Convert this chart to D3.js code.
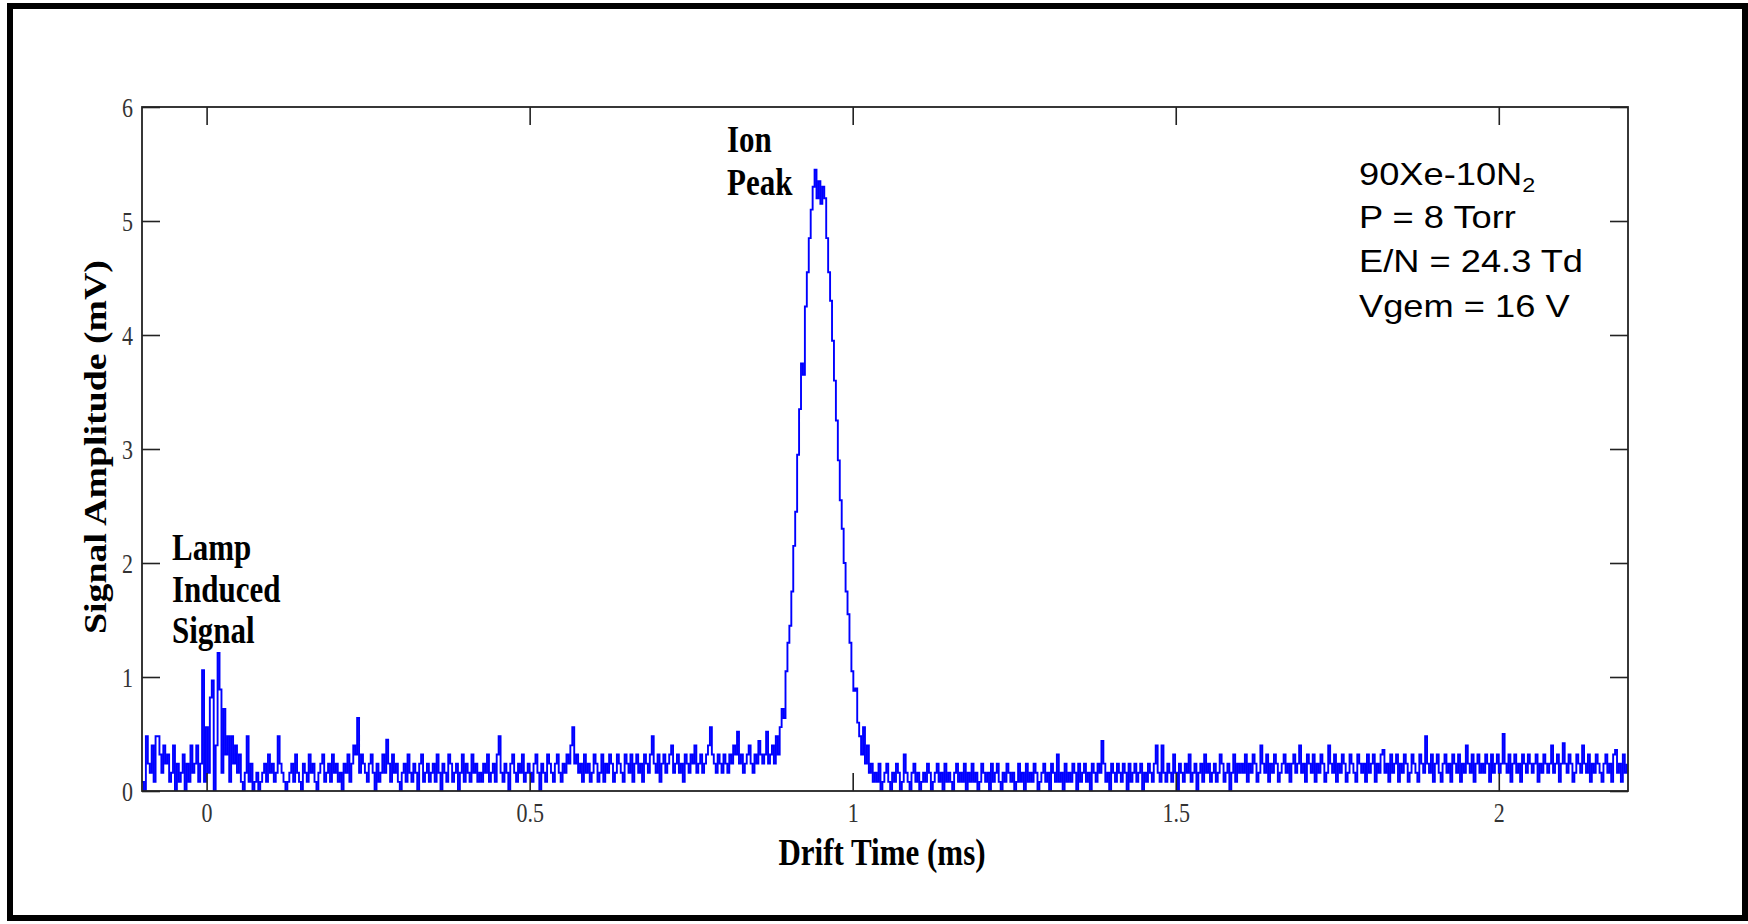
<!DOCTYPE html>
<html><head><meta charset="utf-8">
<script src="https://cdn.jsdelivr.net/npm/d3@7"></script>
<style>html,body{margin:0;padding:0;background:#fff;overflow:hidden}</style>
</head><body>
<svg id="chart" width="1748" height="924"></svg>
<script>
// ---- data (signal amplitude in mV, sampled every timeStep ms from timeStart) ----
const timeStart = -0.1;
const timeStep = 0.003;
const preTrigger = [0.08,0,0.48,0.24,0.16,0.4,0.08,0.48,0.48,0.32,0.16,0.4,0.24,0.32,0.08,0.16,0.4,0,0.24,0.08,0.16,0.32,0,0.24,0.08,0.4,0.16,0.24,0.4,0.08];
const lampSignal = [0.24,1.06,0.08,0.56,0.16,0.82,0.97,0,0.4,1.21,0.89,0.16,0.72,0.32,0.48,0.08,0.48,0.24,0.4,0.16];
const driftBaseline = [
0.32,0.08,0,0.16,0.48,0.08,0.24,0,0.08,0.16,0,0.08,0.16,0.24,0.08,0.32,0.16,0.24,0.08,0.16,0.48,0.24,0.16,0.08,0,
0.08,0.16,0.24,0.08,0.32,0.16,0.08,0,0.24,0.16,0.08,0.32,0.16,0.24,0.08,0,0.16,0.24,0.32,0.08,0.16,0.24,0.08,0.32,0.16,
0.24,0.08,0.16,0,0.24,0.16,0.32,0.08,0.24,0.4,0.32,0.64,0.16,0.32,0.24,0.16,0.08,0.24,0.32,0.16,0,0.24,0.08,0.16,0.32,
0.16,0.45,0.24,0.08,0.32,0.16,0.24,0.08,0,0.16,0.24,0.08,0.32,0.16,0.08,0.24,0.16,0,0.24,0.32,0.08,0.16,0.24,0.08,0.16,
0.24,0.08,0.32,0.16,0,0.24,0.16,0.08,0.32,0.24,0.08,0.16,0.24,0,0.16,0.32,0.08,0.24,0.16,0.08,0.32,0.16,0.24,0.08,0.16,
0.08,0.24,0.16,0.32,0.08,0.16,0.24,0.08,0.32,0.48,0.16,0.08,0.24,0.16,0,0.24,0.32,0.16,0.08,0.24,0.16,0.32,0.08,0.16,0.24,
0.16,0.08,0.24,0.32,0.16,0,0.24,0.16,0.08,0.32,0.24,0.16,0.08,0.24,0.32,0.16,0.08,0.24,0.16,0.32,0.24,0.4,0.56,0.24,0.32,
0.16,0.24,0.08,0.32,0.16,0.24,0.08,0.16,0.32,0.24,0.08,0.16,0.32,0.08,0.24,0.16,0.32,0.24,0.08,0.16,0.32,0.24,0.16,0.08,0.32,
0.24,0.16,0.32,0.08,0.24,0.32,0.16,0.24,0.08,0.32,0.24,0.16,0.32,0.48,0.24,0.16,0.32,0.08,0.24,0.32,0.16,0.24,0.32,0.4,0.16,
0.24,0.32,0.16,0.24,0.08,0.32,0.24,0.16,0.32,0.24,0.4,0.16,0.24,0.32,0.16,0.24,0.32,0.4,0.56,0.32,0.24,0.16,0.32,0.24,0.16,
0.32,0.24,0.16,0.32,0.24,0.4,0.32,0.52,0.24,0.32,0.16,0.24,0.32,0.4,0.24,0.16,0.32,0.24,0.44,0.32,0.24,0.32,0.52,0.24,0.32];
const ionPeak = [0.4,0.24,0.48,0.32,0.56,0.72,0.64,1.05,1.3,1.45,1.75,2.15,2.45,2.95,3.35,3.75,3.65,4.25,4.55,4.85,5.1,5.3,5.45,5.2,5.35,5.15,5.3,5.2,4.85,4.55,4.3,3.95,3.6,3.25,2.9,2.55,2.3,2.0,1.75,1.55,1.3,1.05,0.88,0.9,0.6,0.48,0.32,0.56,0.24,0.4,0.16,0.24,0.08];
const tailBaseline = [
0.16,0.08,0.24,0,0.08,0.16,0.24,0.08,0,0.16,0.08,0.24,0.16,0,0.08,0.32,0.16,0.08,0,0.16,0.24,0.08,0.16,0,0.08,
0.16,0.08,0.24,0.16,0,0.08,0.16,0.24,0.08,0.16,0,0.24,0.08,0.16,0.08,0,0.16,0.24,0.08,0.16,0.08,0.24,0,0.16,0.08,
0.24,0.08,0.16,0,0.08,0.24,0.16,0.08,0.16,0,0.24,0.08,0.16,0.24,0.08,0,0.16,0.08,0.24,0.16,0.08,0.16,0,0.08,0.24,
0.08,0.16,0,0.24,0.08,0.16,0.08,0.24,0.16,0,0.08,0.16,0.24,0.08,0.16,0,0.24,0.16,0.08,0.32,0.08,0.16,0,0.24,0.08,
0.16,0.08,0.24,0.16,0,0.24,0.08,0.16,0.24,0.08,0.16,0,0.24,0.16,0.08,0.24,0.16,0.44,0.24,0.08,0.16,0,0.24,0.16,0.08,
0.24,0.16,0.08,0.24,0.16,0,0.24,0.08,0.16,0.24,0.08,0.16,0.24,0,0.16,0.08,0.24,0.16,0.08,0.24,0.4,0.16,0.08,0.4,0.16,
0.08,0.24,0.16,0.08,0.32,0.16,0,0.24,0.16,0.08,0.24,0.16,0.32,0.08,0.16,0.24,0,0.16,0.24,0.08,0.32,0.16,0.24,0.08,0.16,
0.24,0.08,0.16,0.32,0.24,0.08,0.16,0.24,0,0.16,0.32,0.08,0.24,0.16];
const lateBaseline = [
0.24,0.16,0.32,0.08,0.24,0.16,0.32,0.24,0.08,0.16,0.4,0.24,0.16,0.32,0.08,0.24,0.16,0.32,0.24,0.08,0.16,0.24,0.32,0.16,0.24,
0.08,0.24,0.32,0.16,0.24,0.4,0.16,0.24,0.08,0.32,0.24,0.16,0.32,0.08,0.24,0.16,0.32,0.24,0.08,0.16,0.4,0.24,0.16,0.32,0.08,
0.24,0.16,0.32,0.24,0.08,0.16,0.32,0.24,0.16,0.08,0.32,0.24,0.16,0.24,0.08,0.32,0.16,0.24,0.32,0.08,0.24,0.16,0.32,0.36,0.16,
0.24,0.08,0.32,0.16,0.24,0.32,0.08,0.24,0.16,0.32,0.24,0.08,0.16,0.32,0.24,0.16,0.08,0.32,0.24,0.16,0.48,0.24,0.16,0.32,0.08,
0.24,0.32,0.16,0.08,0.24,0.32,0.16,0.24,0.08,0.32,0.24,0.16,0.32,0.08,0.24,0.16,0.4,0.24,0.16,0.32,0.08,0.24,0.32,0.16,0.24,
0.16,0.32,0.24,0.08,0.32,0.16,0.24,0.32,0.16,0.24,0.5,0.24,0.16,0.32,0.08,0.24,0.32,0.16,0.24,0.08,0.32,0.24,0.16,0.32,0.24,
0.16,0.24,0.32,0.08,0.24,0.16,0.32,0.24,0.16,0.24,0.4,0.16,0.24,0.32,0.08,0.24,0.42,0.24,0.16,0.32,0.24,0.08,0.16,0.32,0.24,
0.16,0.4,0.24,0.16,0.32,0.08,0.24,0.16,0.32,0.24,0.16,0.08,0.24,0.32,0.16,0.24,0.08,0.32,0.36,0.16,0.24,0.08,0.32,0.16,0.24];

const xDomain = [-0.1, 2.2];
const yDomain = [0, 6];
const xTickValues = [0, 0.5, 1, 1.5, 2];
const xTickLabels = ["0", "0.5", "1", "1.5", "2"];
const yTickValues = [0, 1, 2, 3, 4, 5, 6];
const yTickLabels = ["0", "1", "2", "3", "4", "5", "6"];
const xTitle = "Drift Time (ms)";
const yTitle = "Signal Amplitude (mV)";
const ionLabel = ["Ion", "Peak"];
const lampLabel = ["Lamp", "Induced", "Signal"];
const conditionLines = ["P = 8 Torr", "E/N = 24.3 Td", "Vgem = 16 V"];

// ---- build ----
const signal = [].concat(preTrigger, lampSignal, driftBaseline, ionPeak, tailBaseline, lateBaseline);
const points = signal.map((v, i) => ({ t: timeStart + i * timeStep, v }));

const svg = d3.select("#chart");
const W = 1748, H = 924;
const m = { left: 142, right: 1628, top: 107, bottom: 791 };
const serif = "'Liberation Serif','Times New Roman',Times,serif";
const sans = "'Liberation Sans',Arial,Helvetica,sans-serif";

svg.append("rect").attr("width", W).attr("height", H).attr("fill", "#fff");
// outer frame
svg.append("rect").attr("x", 10).attr("y", 6).attr("width", 1735).attr("height", 912)
  .attr("fill", "none").attr("stroke", "#000").attr("stroke-width", 6);

const x = d3.scaleLinear().domain(xDomain).range([m.left, m.right]);
const y = d3.scaleLinear().domain(yDomain).range([m.bottom, m.top]);

svg.append("clipPath").attr("id", "clip").append("rect")
  .attr("x", m.left).attr("y", m.top - 2).attr("width", m.right - m.left).attr("height", m.bottom - m.top + 2);

const line = d3.line().x(d => x(d.t)).y(d => y(d.v)).curve(d3.curveStepAfter);
svg.append("path").datum(points).attr("clip-path", "url(#clip)")
  .attr("d", line).attr("fill", "none").attr("stroke", "#0000ff").attr("stroke-width", 1.9);

const tick = 18;
function styleAxis(g) {
  g.select(".domain").remove();
  g.selectAll(".tick line").attr("stroke", "#222").attr("stroke-width", 1.6);
}
// bottom
const gB = svg.append("g").attr("transform", `translate(0,${m.bottom})`)
  .call(d3.axisBottom(x).tickValues(xTickValues).tickFormat((d, i) => xTickLabels[i]).tickSize(-tick));
styleAxis(gB);
gB.selectAll(".tick text").attr("y", null).attr("dy", null)
  .attr("transform", "translate(0,31) scale(1,1.2)")
  .attr("font-family", serif).attr("font-size", 22).attr("fill", "#333");
// top
const gT = svg.append("g").attr("transform", `translate(0,${m.top})`)
  .call(d3.axisTop(x).tickValues(xTickValues).tickFormat("").tickSize(-tick));
styleAxis(gT);
// left
const gL = svg.append("g").attr("transform", `translate(${m.left},0)`)
  .call(d3.axisLeft(y).tickValues(yTickValues).tickFormat((d, i) => yTickLabels[i]).tickSize(-tick));
styleAxis(gL);
gL.selectAll(".tick text").attr("x", null).attr("dy", null)
  .attr("transform", "translate(-9,9) scale(1,1.2)").attr("text-anchor", "end")
  .attr("font-family", serif).attr("font-size", 22).attr("fill", "#333");
// right
const gR = svg.append("g").attr("transform", `translate(${m.right},0)`)
  .call(d3.axisRight(y).tickValues(yTickValues).tickFormat("").tickSize(-tick));
styleAxis(gR);

// plot frame
svg.append("rect").attr("x", m.left).attr("y", m.top).attr("width", m.right - m.left).attr("height", m.bottom - m.top)
  .attr("fill", "none").attr("stroke", "#222").attr("stroke-width", 1.8);

// titles
svg.append("text").text(xTitle)
  .attr("transform", "translate(882,865) scale(1,1.22)")
  .attr("text-anchor", "middle").attr("font-family", serif).attr("font-weight", "bold").attr("font-size", 31);
svg.append("text").text(yTitle)
  .attr("transform", "translate(106,447) rotate(-90) scale(1.22,1)")
  .attr("text-anchor", "middle").attr("font-family", serif).attr("font-weight", "bold").attr("font-size", 31);

// annotations
const ionBase = [152, 195];
ionLabel.forEach((s, i) => {
  svg.append("text").text(s).attr("transform", `translate(727,${ionBase[i]}) scale(1,1.22)`)
    .attr("font-family", serif).attr("font-weight", "bold").attr("font-size", 31);
});
const lampBase = [560, 602, 643];
lampLabel.forEach((s, i) => {
  svg.append("text").text(s).attr("transform", `translate(172,${lampBase[i]}) scale(1,1.22)`)
    .attr("font-family", serif).attr("font-weight", "bold").attr("font-size", 31);
});

// condition block
const first = svg.append("text").attr("transform", "translate(1359,185) scale(1.17,1)")
  .attr("font-family", sans).attr("font-size", 31).attr("fill", "#000");
first.append("tspan").text("90Xe-10N");
first.append("tspan").text("2").attr("font-size", 20).attr("dy", 7);
const condBase = [228, 272, 317];
conditionLines.forEach((s, i) => {
  svg.append("text").text(s).attr("transform", `translate(1359,${condBase[i]}) scale(1.17,1)`)
    .attr("font-family", sans).attr("font-size", 31).attr("fill", "#000");
});
</script>
</body></html>
